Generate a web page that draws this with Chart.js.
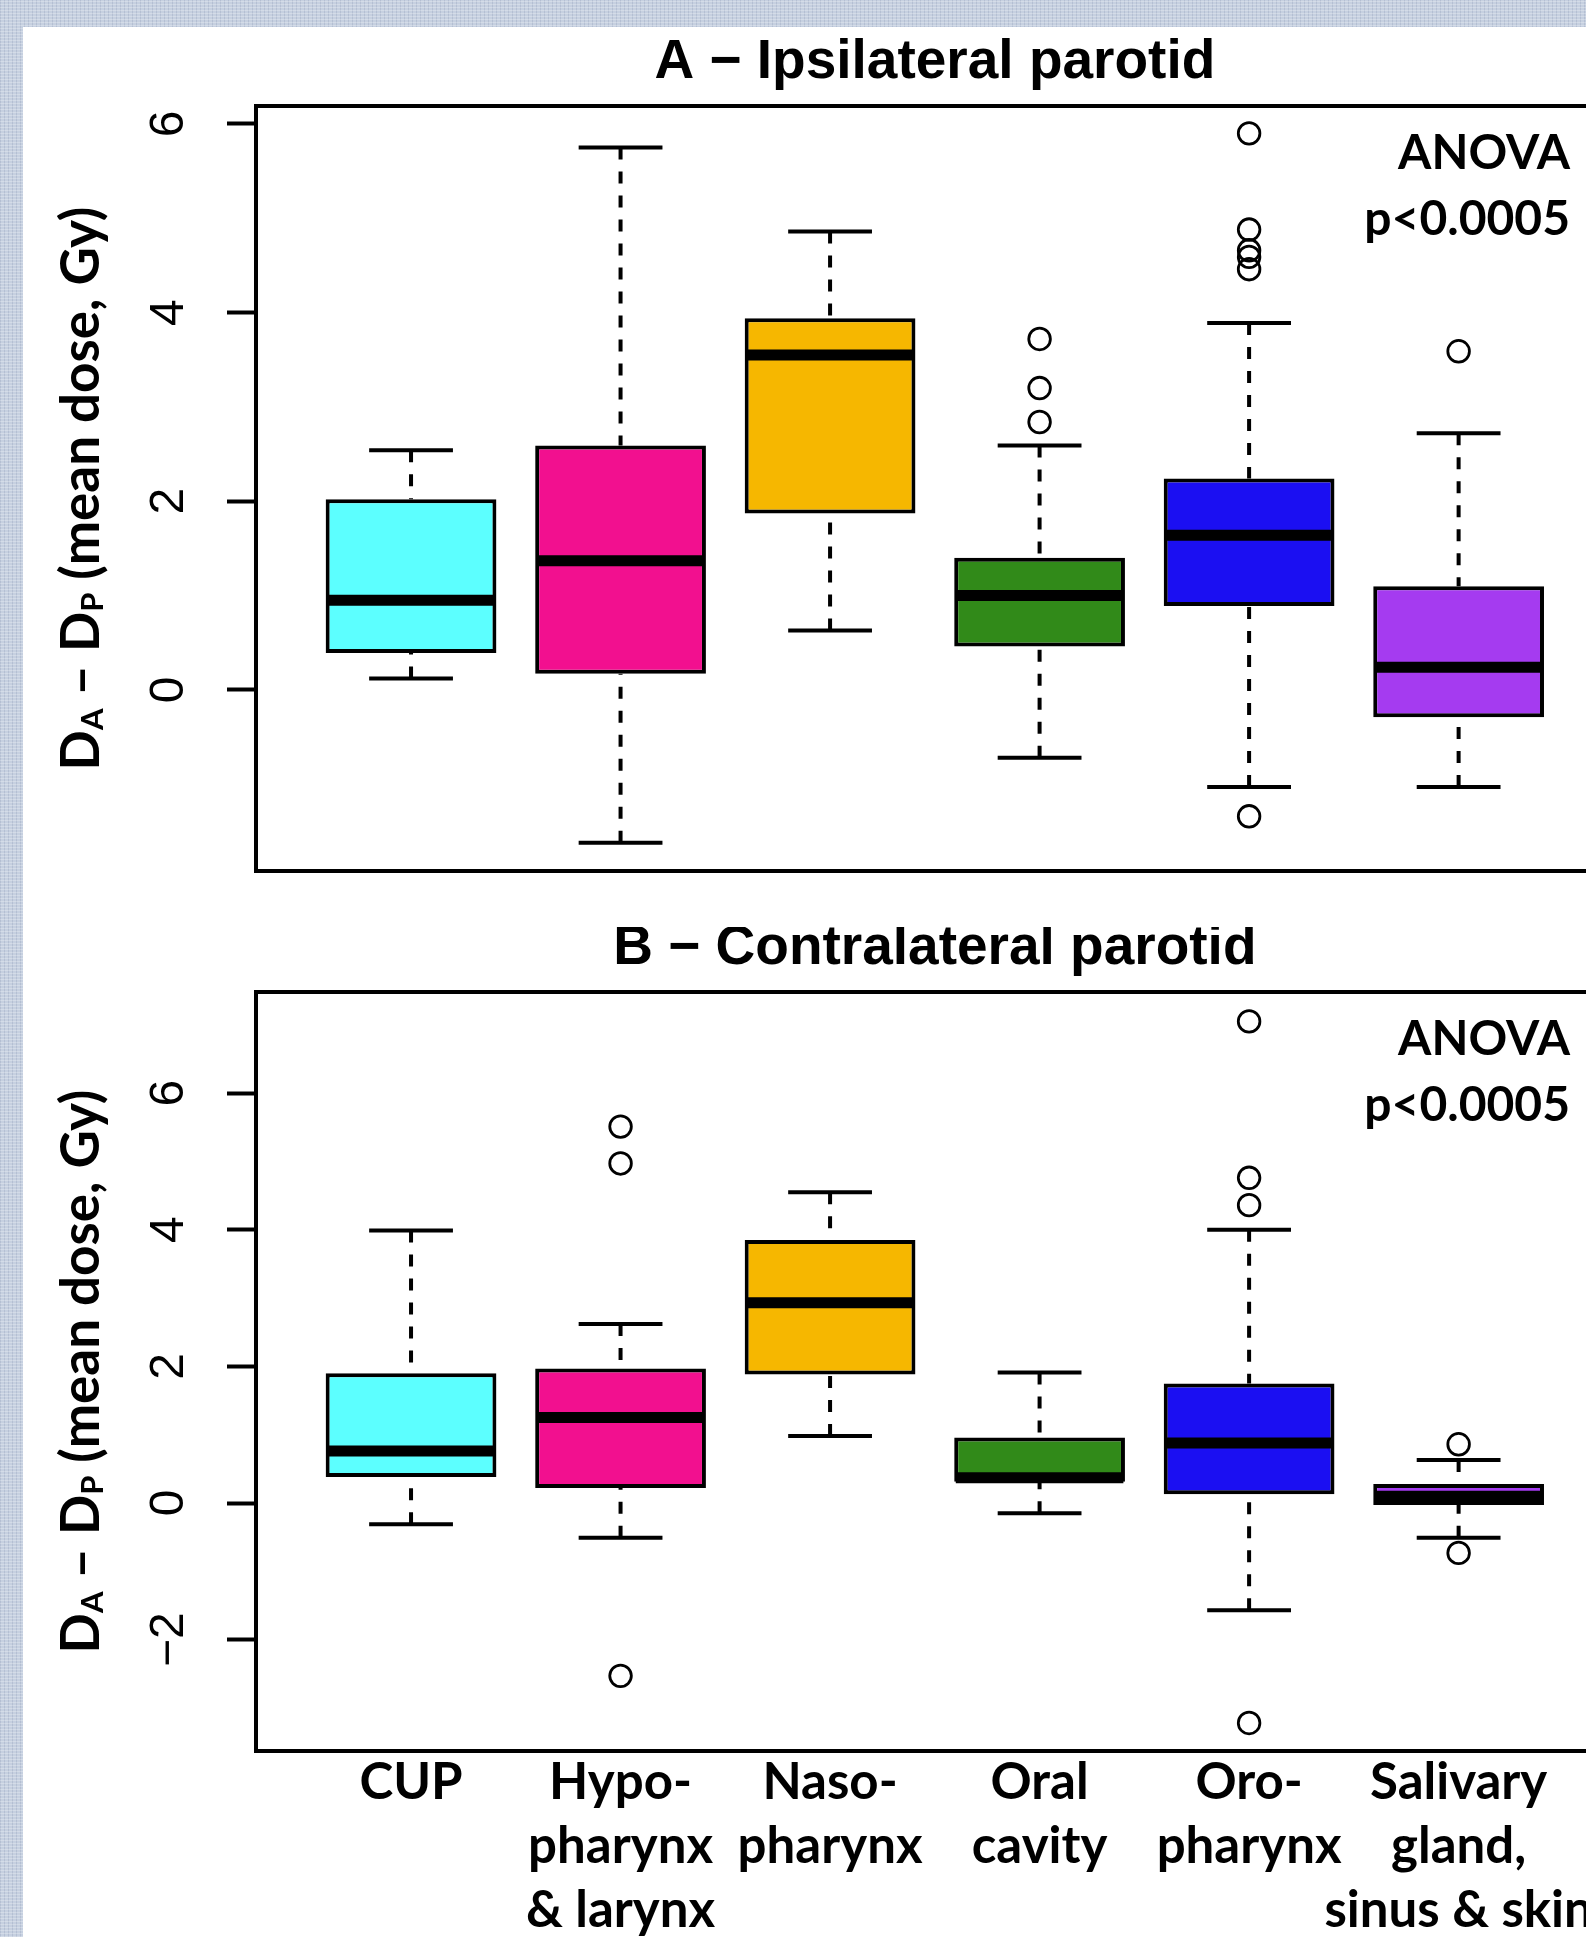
<!DOCTYPE html>
<html>
<head>
<meta charset="utf-8">
<title>D_A - D_P by tumour site</title>
<script src="https://cdn.jsdelivr.net/npm/chart.js@4.4.1/dist/chart.umd.min.js"></script>
<style>
  html, body { margin: 0; padding: 0; }
  body {
    width: 1586px; height: 1937px; overflow: hidden; position: relative;
    background-color: #c6d0e0;
    background-image:
      repeating-linear-gradient(0deg, rgba(255,255,255,0.25) 0 1px, transparent 1px 3px),
      repeating-linear-gradient(90deg, rgba(110,125,160,0.2) 0 1px, transparent 1px 4px);
  }
  #sheet { position: absolute; left: 23px; top: 27px; width: 1563px; height: 1910px; background: #fff; }
  .panel { position: absolute; left: 0; width: 1563px; }
  #wrapA { top: 0; height: 900px; }
  #wrapB { top: 900px; height: 1010px; }
</style>
</head>
<body>
<div id="sheet">
  <div class="panel" id="wrapA"><canvas id="chartA"></canvas></div>
  <div class="panel" id="wrapB"><canvas id="chartB"></canvas></div>
</div>
<script>
// tumour sites (x categories)
const categories = ["CUP", "Hypopharynx & larynx", "Nasopharynx", "Oral cavity", "Oropharynx", "Salivary gland, sinus & skin"];
const tickLines = [["CUP"], ["Hypo-", "pharynx", "& larynx"], ["Naso-", "pharynx"], ["Oral", "cavity"], ["Oro-", "pharynx"], ["Salivary", "gland,", "sinus & skin"]];
const boxColors = ["#5cffff", "#f2108f", "#f6b700", "#318a19", "#1b0ff2", "#a53bf0"];

// A - ipsilateral parotid
const lowA  = [0.12, -1.62, 0.63, -0.72, -1.03, -1.03];
const q1A   = [0.39, 0.17, 1.87, 0.46, 0.89, -0.29];
const medA  = [0.95, 1.37, 3.55, 1.00, 1.64, 0.24];
const q3A   = [2.02, 2.59, 3.94, 1.40, 2.24, 1.10];
const highA = [2.54, 5.75, 4.86, 2.59, 3.89, 2.72];
const outA  = [[], [], [], [3.72, 3.20, 2.84], [5.90, 4.88, 4.66, 4.59, 4.46, -1.34], [3.59]];
const yTicksA = [0, 2, 4, 6];
const yRangeA = [-1.92, 6.19];

// B - contralateral parotid
const lowB  = [-0.31, -0.51, 0.98, -0.15, -1.57, -0.51];
const q1B   = [0.38, 0.22, 1.88, 0.31, 0.13, -0.03];
const medB  = [0.76, 1.25, 2.93, 0.37, 0.88, 0.10];
const q3B   = [1.90, 1.97, 3.85, 0.96, 1.75, 0.28];
const highB = [3.99, 2.62, 4.55, 1.91, 4.00, 0.63];
const outB  = [[], [5.51, 4.97, -2.53], [], [], [7.05, 4.76, 4.36, -3.22], [0.86, -0.73]];
const yTicksB = [-2, 0, 2, 4, 6];
const yRangeB = [-3.63, 7.48];

// x: R plot region is 0.26..6.74, the picture is cut at about 6.61
const plotXLimits = [0.26, 6.74];
const visibleXMax = 6.608;

const LW = 4; // line width for box, whiskers, frame

function drawYTitle(ctx, baseX, midY) {
  const parts = [["D", false], ["A", true], [" \u2013 ", false], ["D", false], ["P", true], [" (mean dose, Gy)", false]];
  const big = 'bold 53px Lato, sans-serif';
  const small = 'bold 31px Lato, sans-serif';
  let total = 0;
  parts.forEach(p => { ctx.font = p[1] ? small : big; total += ctx.measureText(p[0]).width; });
  ctx.save();
  ctx.translate(baseX, midY);
  ctx.rotate(-Math.PI / 2);
  ctx.textAlign = 'left';
  ctx.textBaseline = 'alphabetic';
  let pos = -total / 2;
  parts.forEach(p => {
    ctx.font = p[1] ? small : big;
    ctx.fillText(p[0], pos, p[1] ? 4 : 0);
    pos += ctx.measureText(p[0]).width;
  });
  ctx.restore();
}

const decor = {
  id: 'decor',
  afterDatasetsDraw(chart, args, opts) {
    const { ctx, chartArea: a, scales: { x } } = chart;
    ctx.save();
    ctx.strokeStyle = '#000';
    ctx.lineWidth = LW;
    const right = x.getPixelForValue(plotXLimits[1]);
    ctx.strokeRect(a.left, a.top, right - a.left, a.bottom - a.top);

    ctx.fillStyle = '#000';
    ctx.font = 'bold 55px "Liberation Sans", Arial, sans-serif';
    ctx.textAlign = 'center';
    ctx.textBaseline = 'alphabetic';
    ctx.fillText(opts.title, x.getPixelForValue((plotXLimits[0] + plotXLimits[1]) / 2), a.top - 28);

    ctx.font = 'bold 48px Lato, sans-serif';
    ctx.textAlign = 'right';
    ctx.fillText('ANOVA', a.right - 16, a.top + 63);
    ctx.fillText('p<0.0005', a.right - 16, a.top + 129);

    drawYTitle(ctx, 76, (a.top + a.bottom) / 2);
    ctx.restore();
  }
};

function segs(fn) {
  // build gapped line data, one piece per box
  const out = [];
  categories.forEach((c, i) => { fn(i + 1, i).forEach(p => out.push(p)); });
  return out;
}

function makeChart(id, s) {
  const whiskers = segs((x, i) => [
    { x: x, y: s.high[i] }, { x: x, y: s.q3[i] }, { x: x, y: null },
    { x: x, y: s.low[i] }, { x: x, y: s.q1[i] }, { x: x, y: null }
  ]);
  const caps = segs((x, i) => [
    { x: x - 0.2, y: s.high[i] }, { x: x + 0.2, y: s.high[i] }, { x: x, y: null },
    { x: x - 0.2, y: s.low[i] }, { x: x + 0.2, y: s.low[i] }, { x: x, y: null }
  ]);
  const medians = segs((x, i) => [
    { x: x - 0.4, y: s.med[i] }, { x: x + 0.4, y: s.med[i] }, { x: x, y: null }
  ]);
  const outliers = segs((x, i) => s.out[i].map(v => ({ x: x, y: v })));

  return new Chart(document.getElementById(id), {
    type: 'bar',
    data: {
      datasets: [
        {
          type: 'bar',
          data: categories.map((c, i) => ({ x: i + 1, y: [s.q1[i], s.q3[i]] })),
          backgroundColor: boxColors,
          borderColor: '#000',
          borderWidth: LW,
          borderSkipped: false,
          barPercentage: 0.815,
          categoryPercentage: 1,
          grouped: false,
          order: 3
        },
        { type: 'line', data: whiskers, borderColor: '#000', borderWidth: LW, borderDash: [12, 12],
          borderCapStyle: 'butt', pointRadius: 0, spanGaps: false, order: 4 },
        { type: 'line', data: caps, borderColor: '#000', borderWidth: LW, pointRadius: 0, spanGaps: false, order: 2 },
        { type: 'line', data: medians, borderColor: '#000', borderWidth: 11, borderCapStyle: 'butt',
          pointRadius: 0, spanGaps: false, order: 1 },
        { type: 'line', data: outliers, showLine: false, pointRadius: 10.8, pointBorderWidth: 2.8,
          pointBorderColor: '#000', pointBackgroundColor: 'rgba(0,0,0,0)', order: 0 }
      ]
    },
    options: {
      responsive: true,
      maintainAspectRatio: false,
      animation: false,
      events: [],
      layout: { autoPadding: false, padding: s.padding },
      plugins: { legend: { display: false }, tooltip: { enabled: false }, decor: { title: s.title } },
      scales: {
        x: {
          type: 'linear',
          min: plotXLimits[0],
          max: visibleXMax,
          offset: false,
          display: s.showX,
          afterBuildTicks: sc => { sc.ticks = categories.map((c, i) => ({ value: i + 1 })); },
          ticks: {
            callback: v => tickLines[v - 1] || '',
            font: { family: 'Lato', weight: 'bold', size: 51, lineHeight: '64px' },
            color: '#000',
            padding: 0,
            minRotation: 0,
            maxRotation: 0,
            autoSkip: false
          },
          grid: { display: false, drawTicks: false, offset: false },
          border: { display: false },
          afterFit: sc => { sc.height = s.showX ? 186 : 0; sc.paddingLeft = 0; sc.paddingRight = 0; }
        },
        y: {
          type: 'linear',
          min: s.yRange[0],
          max: s.yRange[1],
          afterBuildTicks: sc => { sc.ticks = s.yTicks.map(v => ({ value: v })); },
          ticks: {
            callback: v => String(v).replace('-', '\u2212'),
            font: { family: 'Liberation Sans', size: 48 },
            color: '#000',
            minRotation: 90,
            maxRotation: 90,
            crossAlign: 'center',
            padding: s.tickPad
          },
          grid: { drawOnChartArea: false, drawTicks: true, tickLength: 29, tickWidth: LW, tickColor: '#000' },
          border: { display: false },
          afterFit: sc => { sc.width = 233; sc.paddingTop = 0; sc.paddingBottom = 0; }
        }
      }
    },
    plugins: [decor]
  });
}

makeChart('chartA', {
  title: 'A \u2212 Ipsilateral parotid',
  low: lowA, q1: q1A, med: medA, q3: q3A, high: highA, out: outA,
  yTicks: yTicksA, yRange: yRangeA, tickPad: 44, showX: false,
  padding: { top: 79, bottom: 56, left: 0, right: 0 }
});

makeChart('chartB', {
  title: 'B \u2212 Contralateral parotid',
  low: lowB, q1: q1B, med: medB, q3: q3B, high: highB, out: outB,
  yTicks: yTicksB, yRange: yRangeB, tickPad: 30, showX: true,
  padding: { top: 65, bottom: 0, left: 0, right: 0 }
});
</script>
</body>
</html>
